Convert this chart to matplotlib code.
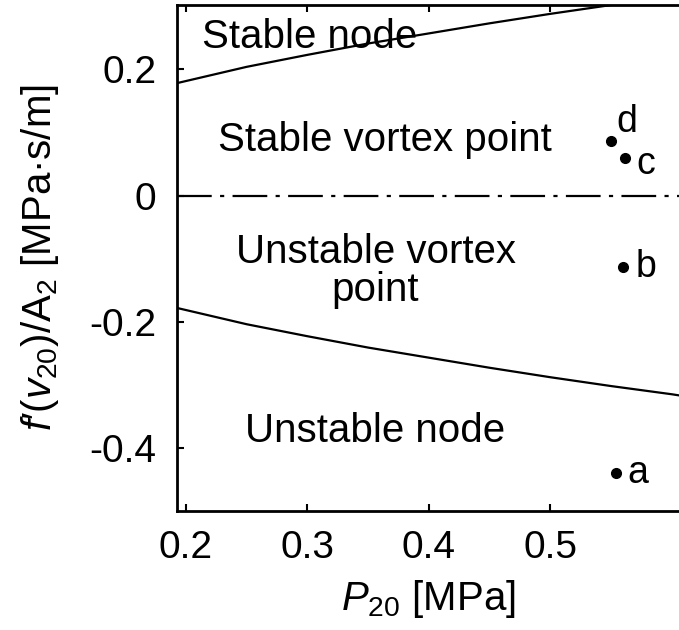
import matplotlib
matplotlib.use("Agg")
import matplotlib.pyplot as plt

plt.rcParams['font.family'] = ['Liberation Sans', 'DejaVu Sans']
plt.rcParams['mathtext.fontset'] = 'custom'
plt.rcParams['mathtext.rm'] = 'Liberation Sans'
plt.rcParams['mathtext.it'] = 'Liberation Sans:italic'
plt.rcParams['lines.scale_dashes'] = False

# Boundary curves of the stability regions
p_boundary = [0.19, 0.25, 0.30, 0.35, 0.40, 0.45, 0.50, 0.55, 0.60, 0.61]
upper_boundary = [0.177, 0.204, 0.223, 0.241, 0.257, 0.273, 0.288, 0.302, 0.315, 0.318]
lower_boundary = [-0.177, -0.204, -0.223, -0.241, -0.257, -0.273, -0.288, -0.302, -0.315, -0.318]

# Operating points
point_names = ['a', 'b', 'c', 'd']
point_p = [0.554, 0.560, 0.561, 0.550]
point_f = [-0.440, -0.113, 0.060, 0.087]

xticks = [0.2, 0.3, 0.4, 0.5]
yticks = [-0.4, -0.2, 0, 0.2]
yticklabels = ['-0.4', '-0.2', '0', '0.2']

fig = plt.figure(figsize=(6.79, 6.30), dpi=100)
ax = fig.add_axes([177/679, 1 - 511/630, 1 - 177/679, (511 - 5)/630])
ax.set_xlim(0.1926, 0.6058)
ax.set_ylim(-0.5, 0.302)

lw = 1.6
ax.plot(p_boundary, upper_boundary, color='black', lw=lw)
ax.plot(p_boundary, lower_boundary, color='black', lw=lw)
ax.axhline(0, color='black', lw=lw, linestyle=(0, (25, 6, 3, 6)))

ax.plot(point_p, point_f, 'o', color='black', markersize=7, clip_on=False)
offsets = {'a': (0.009, 0.0), 'b': (0.010, 0.0), 'c': (0.010, -0.010), 'd': (0.004, 0.030)}
for name, px, py in zip(point_names, point_p, point_f):
    dx, dy = offsets[name]
    ax.text(px + dx, py + dy, name, fontsize=27, ha='left', va='center')

fs = 29
ax.text(0.302, 0.251, 'Stable node', fontsize=fs, ha='center', va='center')
ax.text(0.364, 0.088, 'Stable vortex point', fontsize=fs, ha='center', va='center')
ax.text(0.356, -0.119, 'Unstable vortex\npoint', fontsize=fs, ha='center', va='center',
        linespacing=1.0)
ax.text(0.356, -0.373, 'Unstable node', fontsize=fs, ha='center', va='center')

ax.set_xticks(xticks)
ax.set_xticklabels([f'{v:.1f}' for v in xticks])
ax.set_yticks(yticks)
ax.set_yticklabels(yticklabels)
ax.tick_params(direction='in', length=5, width=1.5, labelsize=28, top=True)
ax.tick_params(axis='x', pad=14)
ax.tick_params(axis='y', pad=15)

for side in ['left', 'bottom', 'top']:
    ax.spines[side].set_linewidth(2.0)
ax.spines['right'].set_visible(False)

ax.set_xlabel('$P_{20}$ [MPa]', fontsize=29, labelpad=8)
ax.set_ylabel("$f$′($v_{20}$)/A$_2$ [MPa·s/m]", fontsize=29, labelpad=20)

fig.savefig('out.png', dpi=100)
